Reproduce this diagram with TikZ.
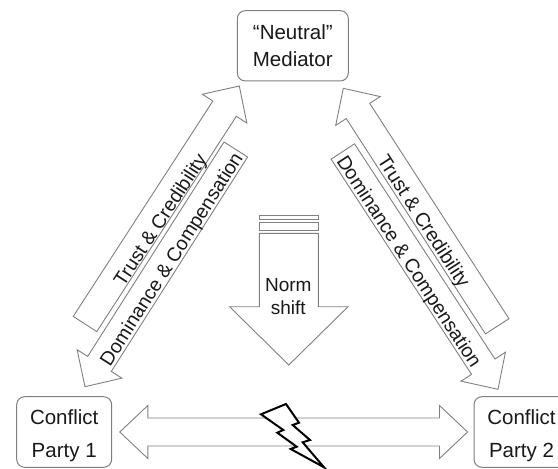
\documentclass[tikz,border=0pt]{standalone}
\usepackage{fontspec}
\setmainfont{Liberation Sans}
\usetikzlibrary{calc}
\definecolor{outl}{RGB}{128,128,128}
\definecolor{txt}{RGB}{25,25,25}
\def\shaftw{14pt}
\def\headw{26.5pt}
\def\headlen{27pt}
\tikzset{
  boxstyle/.style={draw=outl, fill=white, line width=1pt, rounded corners=8pt,
    minimum width=111pt, minimum height=70.3pt, inner sep=0pt, align=center,
    text=txt, font=\fontsize{20.5}{27.4}\selectfont},
  blockarrow/.style={draw=outl, fill=white, line width=0.9pt, line join=miter},
  arrowtext/.style={anchor=base, inner sep=0pt, text=txt,
    font=\fontsize{19.5}{23}\selectfont},
  boltstyle/.style={draw=black, fill=white, line width=2pt, line join=miter},
}
% single block arrow from tail #1 to tip #2
\newcommand{\singleblock}[2]{%
  \coordinate (hb) at ($(#2)!\headlen!(#1)$);
  \draw[blockarrow] ($(#1)!\shaftw!90:(#2)$) -- ($(hb)!\shaftw!-90:(#1)$)
    -- ($(hb)!\headw!-90:(#1)$) -- (#2) -- ($(hb)!\headw!90:(#1)$)
    -- ($(hb)!\shaftw!90:(#1)$) -- ($(#1)!\shaftw!-90:(#2)$) -- cycle;
}
% double block arrow between tips #1 and #2
\newcommand{\doubleblock}[2]{%
  \coordinate (hbA) at ($(#1)!28pt!(#2)$);
  \coordinate (hbB) at ($(#2)!28pt!(#1)$);
  \draw[blockarrow] (#1) -- ($(hbA)!\headw!90:(#2)$) -- ($(hbA)!\shaftw!90:(#2)$)
    -- ($(hbB)!\shaftw!-90:(#1)$) -- ($(hbB)!\headw!-90:(#1)$) -- (#2)
    -- ($(hbB)!\headw!90:(#1)$) -- ($(hbB)!\shaftw!90:(#1)$)
    -- ($(hbA)!\shaftw!-90:(#2)$) -- ($(hbA)!\headw!-90:(#2)$) -- cycle;
}
\begin{document}
\begin{tikzpicture}[x=1pt,y=-1pt]
\useasboundingbox (0,0) rectangle (558,469);
\clip (0,0) rectangle (558,469);

% boxes
\node[boxstyle] (med) at (292.8,45.8) {``Neutral''\\Mediator};
\node[boxstyle, minimum width=95pt, minimum height=70.6pt,
  font=\fontsize{20.5}{33}\selectfont] (p1) at (64.2,432)
  {\rule{0pt}{21.3pt}Conflict\\Party 1};
\node[boxstyle, minimum width=95pt, minimum height=70.6pt,
  font=\fontsize{20.5}{33}\selectfont] (p2) at (521.5,432)
  {\rule{0pt}{21.3pt}Conflict\\Party 2};

% arrow end points
\coordinate (tlA) at (85,324);     \coordinate (tlB) at (239.3,86);
\coordinate (dlA) at (235.8,149.5); \coordinate (dlB) at (85,386.7);
\coordinate (trA) at (497.2,326.3); \coordinate (trB) at (343.3,88.3);
\coordinate (drA) at (342.8,151.5); \coordinate (drB) at (498,389.3);

\singleblock{tlA}{tlB}
\singleblock{dlA}{dlB}
\singleblock{trA}{trB}
\singleblock{drA}{drB}

\node[arrowtext, rotate=57]    (ttl) at (165.7,223.5) {Trust \& Credibility};
\node[arrowtext, rotate=57.5]  (tdl) at (176.9,262.6) {Dominance \& Compensation};
\node[arrowtext, rotate=-57.1] (ttr) at (418.4,224.7) {Trust \& Credibility};
\node[arrowtext, rotate=-56.9] (tdr) at (403.8,265.1) {Dominance \& Compensation};

% norm shift arrow
\draw[blockarrow] (259.3,215) rectangle (318.3,219);
\draw[blockarrow] (259.3,222.7) rectangle (318.3,230);
\draw[blockarrow] (259.3,233.3) -- (318.3,233.3) -- (318.3,306.7) -- (348,306.7)
  -- (288.8,365) -- (229.6,306.7) -- (259.3,306.7) -- cycle;
\node[inner sep=0pt, align=center, text=txt, font=\fontsize{19}{23.3}\selectfont]
  (norm) at (288.3,296.5) {Norm\\shift};

% conflict double arrow
\coordinate (c1) at ($(p1.east)+(7.6,0)$);
\coordinate (c2) at ($(p2.west)+(-6,0)$);
\doubleblock{c1}{c2}

% lightning bolt
\draw[boltstyle] (261,414.3) -- (286,404) -- (299,422.7) -- (292.7,425) -- (310,440)
  -- (302.7,442.3) -- (324,467.3) -- (290.7,449) -- (296.7,446.7) -- (277.3,432.7)
  -- (283.3,430) -- cycle;
\end{tikzpicture}
\end{document}
